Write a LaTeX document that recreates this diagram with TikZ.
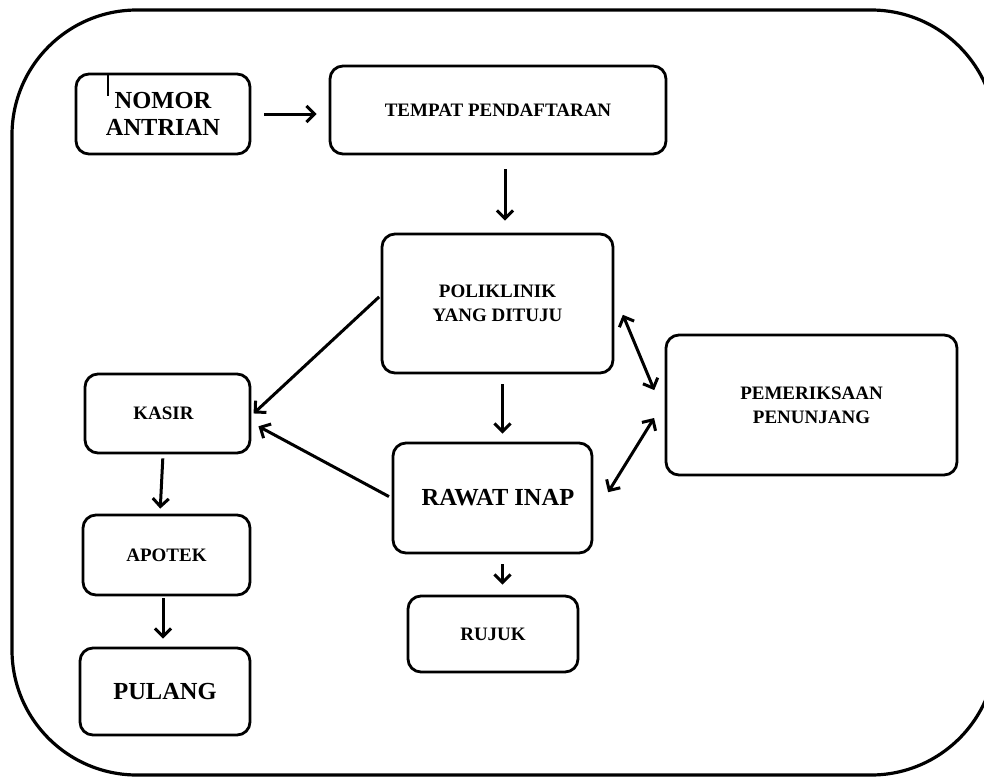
\documentclass[tikz,border=0pt]{standalone}
\usepackage{fontspec}
\setmainfont{Liberation Serif}
\usepackage{tikz}
\usetikzlibrary{arrows.meta}

\begin{document}
\begin{tikzpicture}[x=1pt, y=-1pt,
	box/.style={draw, line width=2.8pt, rounded corners=13pt, align=center, font=\bfseries\fontsize{19}{24}\selectfont},
	bigbox/.style={box, font=\bfseries\fontsize{24.5}{27}\selectfont},
	flow/.style={line width=3pt, -{Straight Barb[length=8pt, width=16pt]}},
	both/.style={line width=3pt, {Straight Barb[length=8pt, width=16pt]}-{Straight Barb[length=8pt, width=16pt]}}]
\useasboundingbox (0,0) rectangle (984,776);
\draw[line width=3.2pt, rounded corners=125pt] (12,10) rectangle (996,775);
\node[bigbox, minimum width=174pt, minimum height=80pt] (nomor) at (163,114) {NOMOR\\ANTRIAN};
\node[box, minimum width=336pt, minimum height=88pt] (tempat) at (498,110) {TEMPAT PENDAFTARAN};
\node[box, minimum width=231pt, minimum height=139pt] (poli) at (497.5,303.5) {POLIKLINIK\\YANG DITUJU};
\node[box, minimum width=291pt, minimum height=140pt] (periksa) at (811.5,405) {PEMERIKSAAN\\PENUNJANG};
\node[bigbox, minimum width=199pt, minimum height=110pt] (rawat) at (492.5,498) {\hspace*{11pt}RAWAT INAP};
\node[box, minimum width=170pt, minimum height=76pt] (rujuk) at (493,634) {RUJUK};
\node[box, minimum width=165pt, minimum height=79pt] (kasir) at (167.5,413.5) {\hspace*{-8pt}KASIR};
\node[box, minimum width=167pt, minimum height=80pt] (apotek) at (166.5,555) {APOTEK};
\node[bigbox, minimum width=170pt, minimum height=87pt] (pulang) at (165,691.5) {PULANG};
\draw[line width=1.4pt] ([xshift=-55pt, yshift=-2pt]nomor.north) -- ++(0,21);
\path[flow]
(nomor.east) edge[shorten <=13pt, shorten >=12pt] (nomor.east -| tempat.west)
([xshift=7pt]tempat.south) edge[shorten <=14pt, shorten >=12pt] ([xshift=7pt]tempat.south |- poli.north)
([yshift=8pt]poli.west) edge[shorten <=2pt, shorten >=3pt] ([yshift=-2pt]kasir.east)
(rawat.west) edge[shorten <=3pt, shorten >=8pt] ([yshift=-9pt]kasir.east)
([xshift=5pt]poli.south) edge[shorten <=10pt, shorten >=8pt] ([xshift=5pt]poli.south |- rawat.north)
([xshift=10pt]rawat.south) edge[shorten <=10pt, shorten >=10pt] ([xshift=10pt]rawat.south |- rujuk.north)
([xshift=-4.5pt]kasir.south) edge[shorten <=4pt, shorten >=5pt] ([xshift=-6.5pt]apotek.north)
([xshift=-3.5pt]apotek.south) edge[shorten <=2pt, shorten >=8pt] ([xshift=-3.5pt]apotek.south |- pulang.north)
;
\path[both]
([yshift=9pt]poli.east) edge[shorten <=22pt, shorten >=27pt] ([yshift=-10pt]periksa.west)
([yshift=-18pt]rawat.east) edge[shorten <=28pt, shorten >=20pt] ([yshift=4pt]periksa.west)
;
\end{tikzpicture}
\end{document}
